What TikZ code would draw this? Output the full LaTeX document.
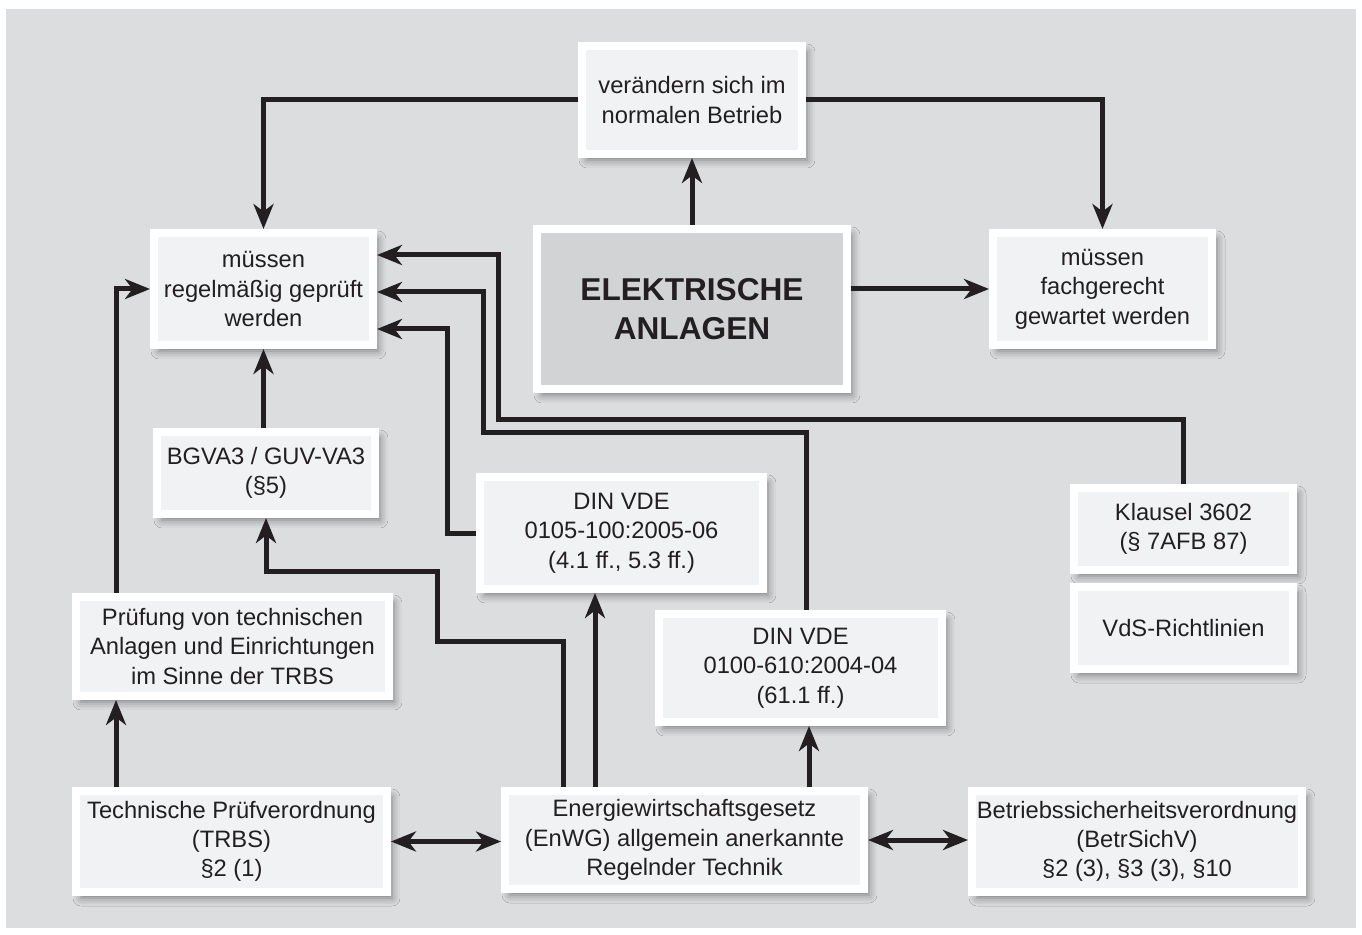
\documentclass[tikz,border=0pt]{standalone}
\usepackage{fontspec}
\setmainfont{Liberation Sans}
\usetikzlibrary{arrows.meta,calc,shadows.blur}
\definecolor{bggray}{HTML}{DCDDDF}
\definecolor{boxgray}{HTML}{F1F2F4}
\definecolor{maingray}{HTML}{D2D3D5}
\definecolor{ink}{HTML}{231F20}

\begin{document}
\begin{tikzpicture}[x=0.02cm, y=-0.02cm,
    box/.style={draw=white, line width=0.16cm, fill=boxgray, text=ink, align=center,
        inner sep=0pt, font=\fontsize{13.5}{16.7}\selectfont,
        blur shadow={shadow xshift=0.1cm, shadow yshift=-0.12cm,
            shadow blur radius=0.16cm, shadow opacity=45}},
    arr/.style={-{Stealth[length=0.5cm, width=0.4cm, inset=0.15cm]}, line width=0.1cm, draw=ink},
    dbl/.style={{Stealth[length=0.5cm, width=0.4cm, inset=0.15cm]}-{Stealth[length=0.5cm, width=0.4cm, inset=0.15cm]},
        line width=0.1cm, draw=ink}]

    \useasboundingbox (0,0) rectangle (1362,935);
    \fill[white] (0,0) rectangle (1362,935);
    \fill[bggray] (6,9) rectangle (1356,928);

    % boxes
    \node[box, minimum width=4.40cm, minimum height=2.16cm] (change) at (692,100)
        {verändern sich im\\normalen Betrieb};
    \node[box, minimum width=4.38cm, minimum height=2.24cm] (check) at (263.5,289)
        {müssen\\regelmäßig geprüft\\werden};
    \node[box, fill=maingray, minimum width=6.20cm, minimum height=3.20cm,
        font=\fontsize{18}{22}\selectfont\bfseries] (ea) at (692,309)
        {ELEKTRISCHE\\ANLAGEN};
    \node[box, minimum width=4.38cm, minimum height=2.24cm] (service) at (1102.5,289)
        {müssen\\fachgerecht\\gewartet werden};
    \node[box, minimum width=4.36cm, minimum height=1.64cm] (bgv) at (266,473)
        {BGVA3 / GUV-VA3\\(§5)};
    \node[box, minimum width=5.66cm, minimum height=2.24cm] (vde105) at (621.5,533)
        {DIN VDE\\0105-100:2005-06\\(4.1 ff., 5.3 ff.)};
    \node[box, minimum width=4.38cm, minimum height=1.64cm] (klausel) at (1183.5,529)
        {Klausel 3602\\(§ 7AFB 87)};
    \node[box, minimum width=4.38cm, minimum height=1.64cm] (vds) at (1183.5,628)
        {VdS-Richtlinien};
    \node[box, minimum width=6.26cm, minimum height=1.98cm] (trbscheck) at (232.5,646.5)
        {Prüfung von technischen\\Anlagen und Einrichtungen\\im Sinne der TRBS};
    \node[box, minimum width=5.66cm, minimum height=2.16cm] (vde100) at (800.5,668)
        {DIN VDE\\0100-610:2004-04\\(61.1 ff.)};
    \node[box, minimum width=6.22cm, minimum height=2.02cm] (trbs) at (231.5,841.5)
        {Technische Prüfverordnung\\(TRBS)\\§2 (1)};
    \node[box, minimum width=7.18cm, minimum height=1.96cm] (enwg) at (684.5,840)
        {Energiewirtschaftsgesetz\\(EnWG) allgemein anerkannte\\Regelnder Technik};
    \node[box, minimum width=6.60cm, minimum height=2.02cm] (betrsich) at (1137,841.5)
        {Betriebssicherheitsverordnung\\(BetrSichV)\\§2 (3), §3 (3), §10};

    % connectors
    \draw[arr] (ea.north) -- (change.south);
    \draw[arr] (change.west) -| (check.north);
    \draw[arr] (change.east) -| (service.north);
    \draw[arr] (ea.east |- service.west) -- (service.west);
    \draw[arr] (bgv.north -| check.south) -- (check.south);

    \draw[arr] (klausel.north) |- (498,420) |- ($(check.east)+(0,-34)$);
    \draw[arr] ([xshift=0.11cm]vde100.north) |- (483,433) |- ($(check.east)+(0,3)$);
    \draw[arr] (vde105.west) -- (447,533) |- ($(check.east)+(0,40)$);

    \draw[arr] ([xshift=-2.33cm]trbscheck.north) |- (check.west);
    \draw[arr] ([xshift=-2.31cm]trbs.north) -- ([xshift=-2.31cm]trbs.north |- trbscheck.south);

    \draw[arr] ([xshift=-2.43cm]enwg.north) |- (437,641) -- (437,571) -| (bgv.south);
    \draw[arr] ([xshift=-0.53cm]vde105.south |- enwg.north) -- ([xshift=-0.53cm]vde105.south);
    \draw[arr] ([xshift=0.17cm]vde100.south |- enwg.north) -- ([xshift=0.17cm]vde100.south);

    \draw[dbl] (trbs.east) -- (trbs.east -| enwg.west);
    \draw[dbl] (enwg.east) -- (enwg.east -| betrsich.west);
\end{tikzpicture}
\end{document}
